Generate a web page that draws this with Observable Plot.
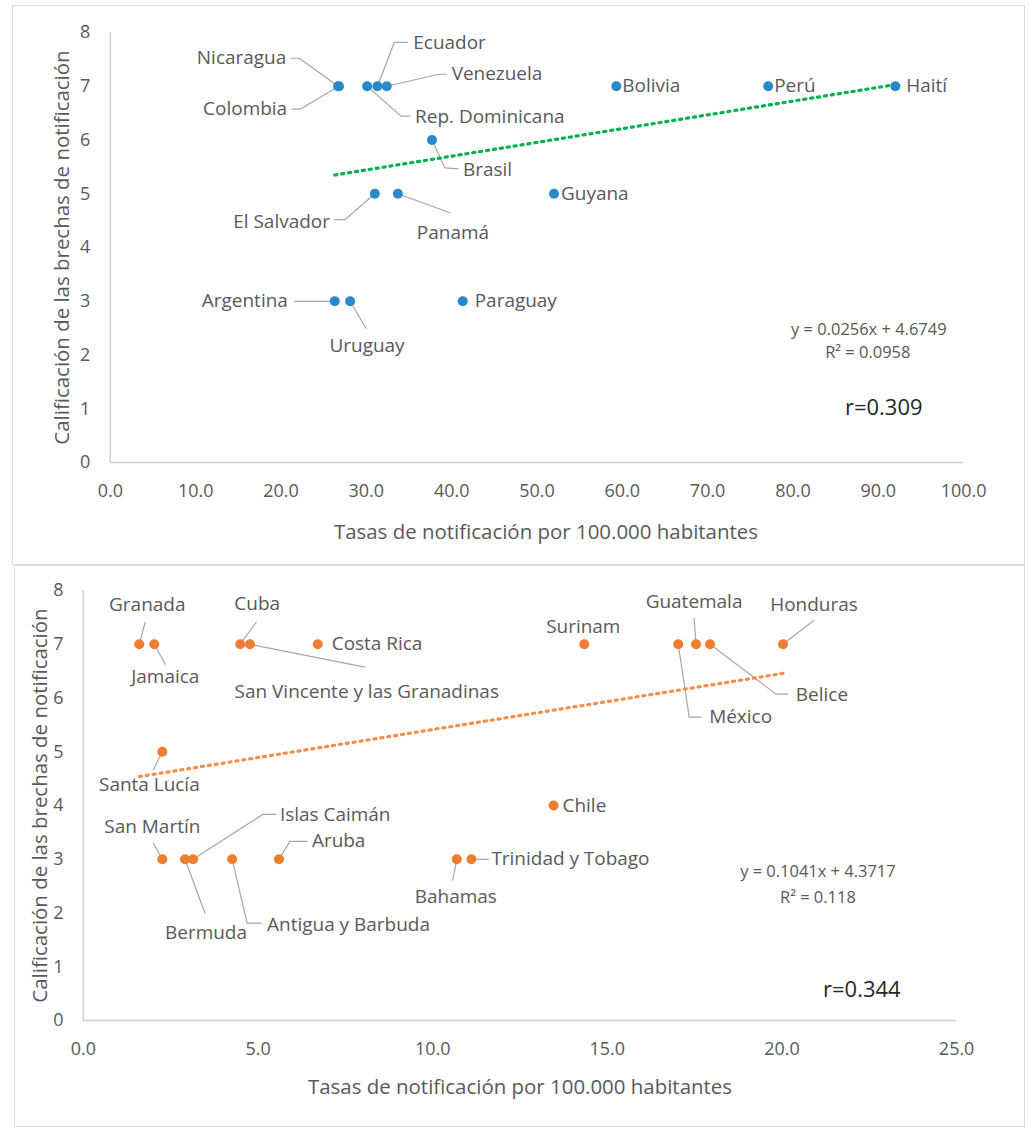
<!DOCTYPE html>
<html><head><meta charset="utf-8">
<script src="https://cdn.jsdelivr.net/npm/d3@7"></script>
<script src="https://cdn.jsdelivr.net/npm/@observablehq/plot@0.6"></script>
<style>
body{margin:0;background:#fff;font-family:"Open Sans",sans-serif;}
.panel{position:absolute;border:1px solid #dcdcdc;background:#fff;box-sizing:border-box;overflow:visible;}
.panel svg{position:absolute;left:-1px;top:-1px;overflow:visible;}
</style></head><body>
<div id="p1" class="panel" style="left:12px;top:5px;width:1013px;height:560px"></div>
<div id="p2" class="panel" style="left:14px;top:565px;width:1011px;height:562px"></div>
<script>
// ---------- Data: top chart ----------
const countriesA = ["Nicaragua","Colombia","Ecuador","Venezuela","Rep. Dominicana","Bolivia","Perú","Haití","Brasil","El Salvador","Panamá","Guyana","Argentina","Uruguay","Paraguay"];
const ratesA  = [26.7, 26.8, 31.3, 32.4, 30.1, 59.3, 77.1, 92.0, 37.7, 31.0, 33.7, 52.0, 26.3, 28.1, 41.3];
const scoresA = [7, 7, 7, 7, 7, 7, 7, 7, 6, 5, 5, 5, 3, 3, 3];
const xTicksA = [0,10,20,30,40,50,60,70,80,90,100];
const slopeA = 0.0256, interceptA = 4.6749;
const eqA = "y = 0.0256x + 4.6749", r2A = "R² = 0.0958", rA = "r=0.309";

// ---------- Data: bottom chart ----------
const countriesB = ["Granada","Jamaica","Cuba","San Vincente y las Granadinas","Costa Rica","Surinam","México","Guatemala","Belice","Honduras","Santa Lucía","Chile","San Martín","Bermuda","Islas Caimán","Antigua y Barbuda","Aruba","Bahamas","Trinidad y Tobago"];
const ratesB  = [1.6, 2.03, 4.49, 4.77, 6.71, 14.34, 17.03, 17.54, 17.94, 20.03, 2.26, 13.46, 2.26, 2.91, 3.14, 4.26, 5.6, 10.69, 11.11];
const scoresB = [7, 7, 7, 7, 7, 7, 7, 7, 7, 7, 5, 4, 3, 3, 3, 3, 3, 3, 3];
const xTicksB = [0,5,10,15,20,25];
const slopeB = 0.1041, interceptB = 4.3717;
const eqB = "y = 0.1041x + 4.3717", r2B = "R² = 0.118", rB = "r=0.344";

const yTicks = [0,1,2,3,4,5,6,7,8];
const xTitle = "Tasas de notificación por 100.000 habitantes";
const yTitle = "Calificación de las brechas de notificación";

// ---------- Label layout (pixel offsets from each point) ----------
const layoutA = {
  "Nicaragua":       {dx:-52, dy:-28, a:"end",    leader:[[0,0],[-39,-28],[-47,-28]]},
  "Colombia":        {dx:-52, dy:23,  a:"end",    leader:[[0,0],[-39,23],[-47,23]]},
  "Ecuador":         {dx:36,  dy:-43, a:"start",  leader:[[0,0],[17,-44],[30,-44]]},
  "Venezuela":       {dx:65,  dy:-12, a:"start",  leader:[[0,0],[52,-12],[60,-12]]},
  "Rep. Dominicana": {dx:48,  dy:31,  a:"start",  leader:[[0,0],[34,30],[43,30]]},
  "Bolivia":         {dx:6,   dy:0,   a:"start"},
  "Perú":            {dx:6,   dy:0,   a:"start"},
  "Haití":           {dx:11,  dy:0,   a:"start"},
  "Brasil":          {dx:31,  dy:30,  a:"start",  leader:[[0,0],[13,28],[26,29]]},
  "El Salvador":     {dx:-45, dy:28,  a:"end",    leader:[[0,0],[-30,26],[-40,26]]},
  "Panamá":          {dx:19,  dy:39,  a:"start",  leader:[[0,0],[52,19]]},
  "Guyana":          {dx:7,   dy:0,   a:"start"},
  "Argentina":       {dx:-47, dy:0,   a:"end",    leader:[[0,0],[-40,0]]},
  "Uruguay":         {dx:17,  dy:45,  a:"middle", leader:[[0,0],[16,27]]},
  "Paraguay":        {dx:12,  dy:0,   a:"start"}
};
const layoutB = {
  "Granada":            {dx:8,   dy:-39, a:"middle", leader:[[0,0],[6,-22]]},
  "Jamaica":            {dx:11,  dy:33,  a:"middle", leader:[[0,0],[11,20]]},
  "Cuba":               {dx:17,  dy:-40, a:"middle", leader:[[0,0],[16,-22]]},
  "San Vincente y las Granadinas": {dx:117, dy:48, a:"middle", leader:[[0,0],[115,23]]},
  "Costa Rica":         {dx:14,  dy:0,   a:"start"},
  "Surinam":            {dx:-1,  dy:-17, a:"middle"},
  "México":             {dx:31,  dy:73,  a:"start",  leader:[[0,0],[11,73],[23,73]]},
  "Guatemala":          {dx:-2,  dy:-42, a:"middle", leader:[[0,0],[-2,-26]]},
  "Belice":             {dx:86,  dy:51,  a:"start",  leader:[[0,0],[66,50],[78,50]]},
  "Honduras":           {dx:31,  dy:-39, a:"middle", leader:[[0,0],[31,-24]]},
  "Santa Lucía":        {dx:-13, dy:33,  a:"middle", leader:[[0,0],[-9,18]]},
  "Chile":              {dx:9,   dy:0,   a:"start"},
  "San Martín":         {dx:-10, dy:-32, a:"middle", leader:[[0,0],[-9,-16]]},
  "Bermuda":            {dx:21,  dy:74,  a:"middle", leader:[[0,0],[20,54]]},
  "Islas Caimán":       {dx:87,  dy:-44, a:"start",  leader:[[0,0],[70,-45],[83,-45]]},
  "Antigua y Barbuda":  {dx:35,  dy:66,  a:"start",  leader:[[0,0],[15,64],[29,64]]},
  "Aruba":              {dx:33,  dy:-18, a:"start",  leader:[[0,0],[11,-18],[28,-18]]},
  "Bahamas":            {dx:-1,  dy:38,  a:"middle", leader:[[0,0],[-4,21]]},
  "Trinidad y Tobago":  {dx:20,  dy:0,   a:"start",  leader:[[0,0],[17,0]]}
};

function scatter(cfg) {
  const {names, xs, ys, layout, xMax, xTicks, color, trendColor, slope, intercept,
         width, height, ml, mr, mt, mb, eq, r2, r, eqPos, r2Pos, rPos, yTitleDx, xTitleDx, xTitleDy} = cfg;
  const kx = xMax / (width - ml - mr);
  const ky = 8 / (height - mt - mb);
  const pts = names.map((n, i) => ({name: n, x: xs[i], y: ys[i]}));
  const labels = pts.map(p => {
    const L = layout[p.name];
    return {name: p.name, a: L.a, lx: p.x + L.dx * kx, ly: p.y - L.dy * ky};
  });
  const leaders = [];
  pts.forEach(p => {
    const L = layout[p.name];
    if (L.leader) L.leader.forEach(([px, py]) => leaders.push({name: p.name, x: p.x + px * kx, y: p.y - py * ky}));
  });
  const xmin = d3.min(xs), xmaxD = d3.max(xs);
  const trend = [xmin, xmaxD].map(x => ({x, y: slope * x + intercept}));
  const txt = (a) => Plot.text(labels.filter(d => d.a === a), {x: "lx", y: "ly", text: "name", textAnchor: a, lineAnchor: "middle", fill: "#595959", fontSize: 19});
  const ann = (s, pos, size, fill) => Plot.text([s], {frameAnchor: "top-left", dx: pos[0], dy: pos[1], textAnchor: "middle", lineAnchor: "middle", fontSize: size, fill});
  return Plot.plot({
    width, height, marginLeft: ml, marginRight: mr, marginTop: mt, marginBottom: mb,
    x: {domain: [0, xMax]},
    y: {domain: [0, 8]},
    style: {fontFamily: "'Open Sans', sans-serif", color: "#595959", background: "transparent", overflow: "visible"},
    marks: [
      Plot.ruleY([0], {x1: 0, x2: xMax, stroke: "#d0d0d0", strokeWidth: 1.5}),
      Plot.ruleX([0], {y1: 0, y2: 8, stroke: "#d0d0d0", strokeWidth: 1.5}),
      Plot.axisX({ticks: xTicks, tickFormat: d => d.toFixed(1), tickSize: 0, tickPadding: 22, fontSize: 18, label: null}),
      Plot.axisY({ticks: yTicks, tickFormat: d => String(d), tickSize: 0, tickPadding: 20, fontSize: 18, label: null}),
      Plot.text([xTitle], {frameAnchor: "bottom", dx: xTitleDx, dy: xTitleDy, textAnchor: "middle", lineAnchor: "middle", fontSize: 20.5, fill: "#595959"}),
      Plot.text([yTitle], {frameAnchor: "left", dx: yTitleDx, rotate: -90, textAnchor: "middle", lineAnchor: "middle", fontSize: 20.5, fill: "#595959"}),
      Plot.line(leaders, {x: "x", y: "y", z: "name", stroke: "#a6a6a6", strokeWidth: 1.2}),
      Plot.line(trend, {x: "x", y: "y", stroke: trendColor, strokeWidth: 3.2, strokeDasharray: "2.2,4.8"}),
      Plot.dot(pts, {x: "x", y: "y", r: 5, fill: color}),
      txt("start"), txt("end"), txt("middle"),
      ann(eq, eqPos, 16.5, "#595959"),
      ann(r2, r2Pos, 16.5, "#595959"),
      ann(r, rPos, 22, "#262626")
    ]
  });
}

document.getElementById("p1").appendChild(scatter({
  names: countriesA, xs: ratesA, ys: scoresA, layout: layoutA, xMax: 100, xTicks: xTicksA,
  color: "#2789c9", trendColor: "#00b050", slope: slopeA, intercept: interceptA,
  width: 1013, height: 560, ml: 98, mr: 60, mt: 27, mb: 102,
  eq: eqA, r2: r2A, r: rA, eqPos: [760, 298], r2Pos: [759, 321], rPos: [775, 376],
  yTitleDx: -48, xTitleDx: 9, xTitleDy: 70
}));
document.getElementById("p2").appendChild(scatter({
  names: countriesB, xs: ratesB, ys: scoresB, layout: layoutB, xMax: 25, xTicks: xTicksB,
  color: "#ed7d31", trendColor: "#f0904f", slope: slopeB, intercept: interceptB,
  width: 1011, height: 562, ml: 69, mr: 67, mt: 25, mb: 106,
  eq: eqB, r2: r2B, r: rB, eqPos: [736, 282], r2Pos: [736, 308], rPos: [780, 400],
  yTitleDx: -43, xTitleDx: 0, xTitleDy: 67
}));
</script>
</body></html>
